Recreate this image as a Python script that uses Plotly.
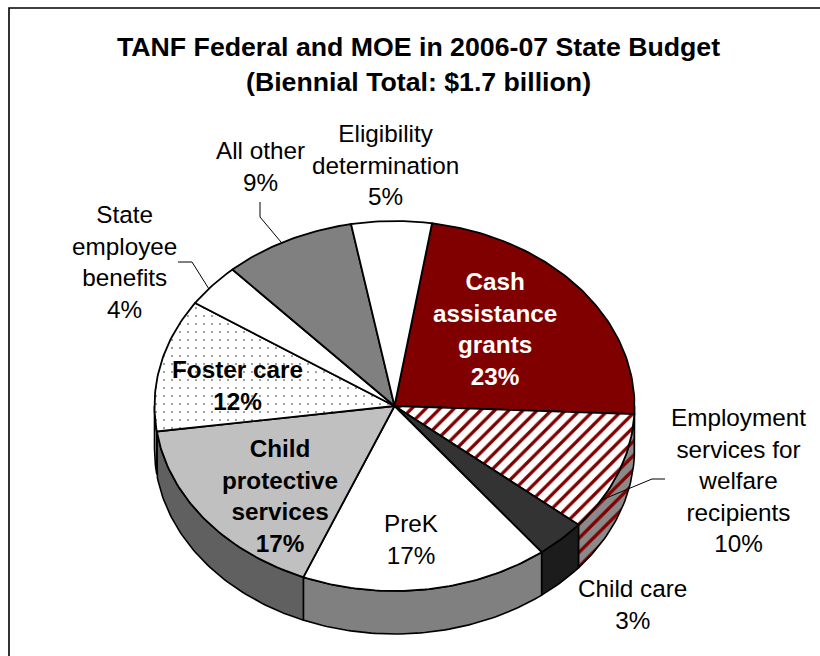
import numpy as np
import plotly.graph_objects as go

# Budget shares, clockwise from the Cash assistance grants slice
slice_names = ["Cash assistance grants", "Employment services for welfare recipients",
               "Child care", "PreK", "Child protective services", "Foster care",
               "State employee benefits", "All other", "Eligibility determination"]
slice_values = [23.2, 10.4, 3.4, 16.7, 16.6, 11.6, 3.8, 8.9, 5.4]

top_colors = ["#800000", "#ffffff", "#333333", "#ffffff", "#c0c0c0", "#ffffff",
              "#ffffff", "#808080", "#ffffff"]
side_colors = ["#5a0000", "#8a8a8a", "#1c1c1c", "#808080", "#606060", "#a0a0a0",
               "#a0a0a0", "#5a5a5a", "#a0a0a0"]

# Pie projection: an ellipse with a constant extrusion below it
CX, CY = 394.5, 406
RX, RY = 240, 185
DEPTH = 43
START_DEG = 81


def pt(deg, drop=0.0):
    r = np.radians(deg)
    return CX + RX * np.cos(r), CY - RY * np.sin(r) + drop


def arc(a, b, drop=0.0):
    n = max(2, int(abs(a - b)) + 2)
    return pt(np.linspace(a, b, n), drop)


fig = go.Figure()

edges = np.cumsum([0] + slice_values) * 3.6
bounds = [(START_DEG - edges[i], START_DEG - edges[i + 1]) for i in range(len(slice_values))]

# Extruded walls: only the part of each slice on the near half is visible
for i, (a, b) in enumerate(bounds):
    hi = min(a, 0)
    lo = max(b, -180)
    if hi <= lo:
        continue
    xt, yt = arc(hi, lo)
    xb, yb = arc(lo, hi, DEPTH)
    xs = np.r_[xt, xb, xt[0]]
    ys = np.r_[yt, yb, yt[0]]
    wall = dict(x=xs, y=ys, mode="lines", fill="toself", hoverinfo="skip",
                line=dict(color="#000000", width=1.6), fillcolor=side_colors[i])
    if i == 1:
        wall["fillpattern"] = dict(shape="/", size=10, solidity=0.33, fgopacity=1,
                                   fgcolor="#800000", bgcolor="#8a8a8a")
    fig.add_trace(go.Scatter(**wall))

# Top faces
for i, (a, b) in enumerate(bounds):
    xa, ya = arc(a, b)
    xs = np.r_[CX, xa, CX]
    ys = np.r_[CY, ya, CY]
    face = dict(x=xs, y=ys, mode="lines", fill="toself", name=slice_names[i],
                line=dict(color="#000000", width=1.8), fillcolor=top_colors[i])
    if i == 1:
        face["fillpattern"] = dict(shape="/", size=10, solidity=0.33, fgopacity=1,
                                   fgcolor="#800000", bgcolor="#ffffff")
    if i == 5:
        face["fillpattern"] = dict(shape=".", size=8, solidity=0.05, fgopacity=1,
                                   fgcolor="#808080", bgcolor="#ffffff")
    fig.add_trace(go.Scatter(**face))


def edge_point(i, frac=0.5):
    a, b = bounds[i]
    return pt(a + (b - a) * frac)


# Leader lines from outside labels to their slices
leaders = [(1, 0.75, [(665, 479), (652, 479)]),
           (6, 0.4, [(178, 262), (192, 262)]),
           (7, 0.45, [(260, 202), (260, 217)])]
for i, frac, elbow in leaders:
    ex, ey = edge_point(i, frac)
    fig.add_trace(go.Scatter(x=[p[0] for p in elbow] + [ex], y=[p[1] for p in elbow] + [ey],
                             mode="lines", line=dict(color="#000000", width=1, shape="linear"),
                             hoverinfo="skip"))

FONT = "Liberation Sans, Arial, sans-serif"


def pct(i):
    return f"{round(slice_values[i])}%"


labels = [
    (495, 328.5, f"<b>Cash<br>assistance<br>grants<br>{pct(0)}</b>", "#ffffff"),
    (738, 480, f"Employment<br>services for<br>welfare<br>recipients<br>{pct(1)}", "#000000"),
    (632, 604, f"Child care<br>{pct(2)}", "#000000"),
    (411, 539, f"PreK<br>{pct(3)}", "#000000"),
    (280, 496, f"<b>Child<br>protective<br>services<br>{pct(4)}</b>", "#000000"),
    (237, 385, f"<b>Foster care<br>{pct(5)}</b>", "#000000"),
    (124, 262, f"State<br>employee<br>benefits<br>{pct(6)}", "#000000"),
    (260, 166, f"All other<br>{pct(7)}", "#000000"),
    (385, 165, f"Eligibility<br>determination<br>{pct(8)}", "#000000"),
]
annotations = [dict(x=x, y=y, text=t, showarrow=False, xanchor="center", yanchor="middle",
                    align="center", font=dict(family=FONT, size=24.3, color=c))
               for x, y, t, c in labels]
annotations.append(dict(x=418, y=64, showarrow=False, xanchor="center", yanchor="middle",
                        align="center", font=dict(family=FONT, size=26.7, color="#000000"),
                        text="<b>TANF Federal and MOE in 2006-07 State Budget<br>"
                             "(Biennial Total: $1.7 billion)</b>"))

fig.update_layout(
    width=820, height=656, margin=dict(l=0, r=0, t=0, b=0),
    paper_bgcolor="#ffffff", plot_bgcolor="#ffffff", showlegend=False,
    xaxis=dict(range=[0, 820], visible=False, fixedrange=True),
    yaxis=dict(range=[656, 0], visible=False, fixedrange=True),
    annotations=annotations,
    shapes=[dict(type="rect", xref="x", yref="y", x0=9, y0=8, x1=900, y1=700,
                 line=dict(color="#000000", width=1.6), layer="below")],
)
fig.write_html("out.html", config={"displayModeBar": False})
